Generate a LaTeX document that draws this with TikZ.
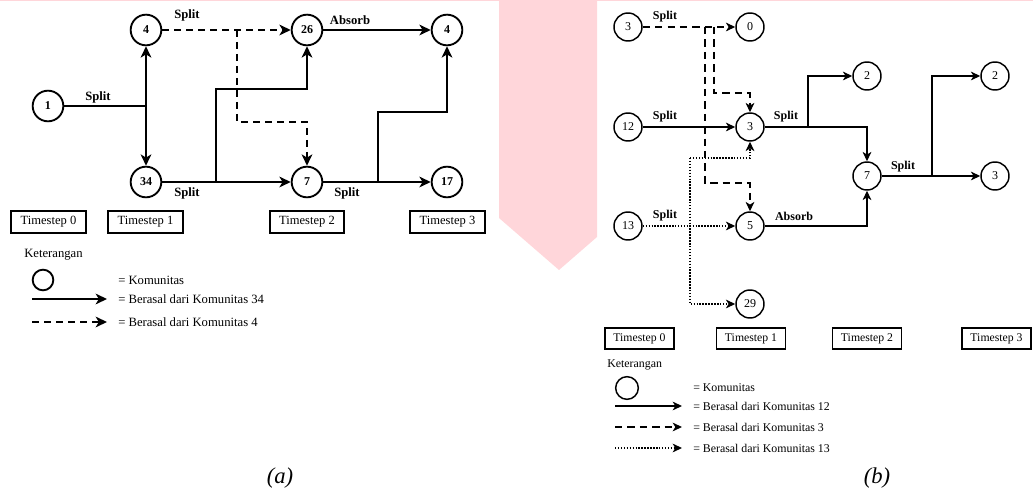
\documentclass[tikz,border=0pt]{standalone}
\usepackage{fontspec}
\setmainfont{Liberation Serif}
\usetikzlibrary{arrows.meta}
\definecolor{wpink}{HTML}{FFD6DA}
\tikzset{
  commA/.style={circle, draw, line width=1.4pt, minimum size=23pt, inner sep=0pt, font=\bfseries\fontsize{9}{10}\selectfont},
  commB/.style={circle, draw, line width=1.1pt, minimum size=21pt, inner sep=0pt, font=\fontsize{9}{10}\selectfont},
  tipA/.style={-{Stealth[length=8.5pt,width=8pt,inset=2.4pt]}},
  tipB/.style={-{Stealth[length=7pt,width=6.5pt,inset=2pt]}},
  solA/.style={line width=1.4pt},
  dshA/.style={line width=1.4pt, dash pattern=on 5pt off 4pt},
  solB/.style={line width=1.1pt},
  dshB/.style={line width=1.1pt, dash pattern=on 5.5pt off 3.8pt},
  dotB/.style={line width=1.1pt, dash pattern=on 1.1pt off 1.1pt},
  lblA/.style={font=\bfseries\fontsize{9.5}{11}\selectfont, inner sep=0pt},
  lblB/.style={font=\bfseries\fontsize{9}{10}\selectfont, inner sep=0pt},
  tsA/.style={draw, line width=1.4pt, minimum width=56pt, minimum height=17pt, inner sep=0pt, font=\fontsize{9.4}{10}\selectfont},
  tsB/.style={draw, line width=1.1pt, minimum width=52pt, minimum height=15.5pt, inner sep=0pt, font=\fontsize{8.8}{10}\selectfont},
  legA/.style={anchor=west, inner sep=0pt, font=\fontsize{9.5}{11}\selectfont},
  legB/.style={anchor=west, inner sep=0pt, font=\fontsize{8.9}{10}\selectfont},
  capt/.style={inner sep=0pt, font=\itshape\fontsize{17}{20}\selectfont},
}
\begin{document}
\begin{tikzpicture}[x=0.75pt, y=-0.75pt, line join=miter]
\useasboundingbox (0,0) rectangle (1033,495);
% background marks
\fill[wpink] (0,0) rectangle (1033,1.5);
\fill[wpink] (499,0) -- (597,0) -- (597,237) -- (559,270) -- (499,218) -- cycle;

% ================= (a) =================
\node[commA] (a1)  at (48,106) {1};
\node[commA] (a4)  at (146,30) {4};
\node[commA] (a34) at (146,182) {34};
\node[commA] (a26) at (307,30) {26};
\node[commA] (a7)  at (307,182) {7};
\node[commA] (a4b) at (447,30) {4};
\node[commA] (a17) at (447,182) {17};

\coordinate (j1) at (146,106);
\coordinate (k1) at (216,182);
\coordinate (k2) at (216,89);
\coordinate (m1) at (237,30);
\coordinate (m2) at (237,122);
\coordinate (n1) at (378,182);
\coordinate (n2) at (378,112);

\draw[solA] (a1) -- (j1);
\draw[solA, tipA] (j1) -- (a4);
\draw[solA, tipA] (j1) -- (a34);
\draw[solA, tipA] (a34) -- (a7);
\draw[solA, tipA] (k1) -- (k2) -| (a26);
\draw[dshA, tipA] (a4) -- (a26);
\draw[dshA, tipA] (m1) -- (m2) -| (a7);
\draw[solA, tipA] (a26) -- (a4b);
\draw[solA, tipA] (a7) -- (a17);
\draw[solA, tipA] (n1) -- (n2) -| (a4b);

\node[lblA] (la1) at (98,97) {Split};
\node[lblA] (la2) at (187,15) {Split};
\node[lblA] (la3) at (350,20) {Absorb};
\node[lblA] (la4) at (187,193) {Split};
\node[lblA] (la5) at (347,193) {Split};

\node[tsA] (ta0) at (48.5,222) {Timestep 0};
\node[tsA] (ta1) at (145.5,222) {Timestep 1};
\node[tsA] (ta2) at (307,222) {Timestep 2};
\node[tsA] (ta3) at (447.5,222) {Timestep 3};

\node[legA] (ka) at (24,255) {Keterangan};
\node[circle, draw, line width=1.4pt, minimum size=15.5pt, inner sep=0pt] (kca) at (43,280) {};
\node[legA] (kta) at (118,280) {= Komunitas};
\coordinate (pa1) at (32,299); \coordinate (pa2) at (107,299);
\draw[solA, tipA] (pa1) -- (pa2);
\node[legA] (ksa) at (118,299) {= Berasal dari Komunitas 34};
\coordinate (pa3) at (32,322); \coordinate (pa4) at (107,322);
\draw[dshA, tipA] (pa3) -- (pa4);
\node[legA] (kda) at (118,322) {= Berasal dari Komunitas 4};

\node[capt] (capa) at (280,478) {(a)};

% ================= (b) =================
\node[commB] (b3)  at (628,27) {3};
\node[commB] (b0)  at (750,27) {0};
\node[commB] (b12) at (628,127) {12};
\node[commB] (b3b) at (750,127) {3};
\node[commB] (b2)  at (867,76) {2};
\node[commB] (b7)  at (867,176) {7};
\node[commB] (b2b) at (995,76) {2};
\node[commB] (b3c) at (995,176) {3};
\node[commB] (b13) at (628,226) {13};
\node[commB] (b5)  at (750,226) {5};
\node[commB] (b29) at (750,304) {29};

\coordinate (e1) at (705,27);
\coordinate (e2) at (705,183);
\coordinate (e3) at (714,27);
\coordinate (e4) at (714,93);
\coordinate (f1) at (808,127);
\coordinate (g1) at (932,176);
\coordinate (h1) at (690,158);

\draw[dshB, tipB] (b3) -- (b0);
\draw[dshB, tipB] (e1) -- (e2) -| (b5);
\draw[dshB, tipB] (e3) -- (e4) -| (b3b);
\draw[solB, tipB] (b12) -- (b3b);
\draw[solB, tipB] (b3b) -| (b7);
\draw[solB, tipB] (f1) |- (b2);
\draw[solB, tipB] (b5) -| (b7);
\draw[solB, tipB] (b7) -- (b3c);
\draw[solB, tipB] (g1) |- (b2b);
\draw[dotB, tipB] (b13) -- (b5);
\draw[dotB, tipB] (h1) |- (b29);
\draw[dotB, tipB] (h1) -| (b3b);

\node[lblB] (lb1) at (665,17) {Split};
\node[lblB] (lb2) at (665,117) {Split};
\node[lblB] (lb3) at (786,117) {Split};
\node[lblB] (lb4) at (903,167) {Split};
\node[lblB] (lb5) at (794,216) {Absorb};
\node[lblB] (lb6) at (665,216) {Split};

\node[tsB] (tb0) at (639.5,338.5) {Timestep 0};
\node[tsB] (tb1) at (751,338.5) {Timestep 1};
\node[tsB] (tb2) at (867,338.5) {Timestep 2};
\node[tsB] (tb3) at (996.5,338.5) {Timestep 3};

\node[legB] (kb) at (607,365) {Keterangan};
\node[circle, draw, line width=1.1pt, minimum size=17pt, inner sep=0pt] (kcb) at (627,388) {};
\node[legB] (ktb) at (693,388) {= Komunitas};
\coordinate (pb1) at (615,406); \coordinate (pb2) at (682,406);
\draw[solB, tipB] (pb1) -- (pb2);
\node[legB] (ksb) at (693,406) {= Berasal dari Komunitas 12};
\coordinate (pb3) at (615,427); \coordinate (pb4) at (682,427);
\draw[dshB, tipB] (pb3) -- (pb4);
\node[legB] (kdb) at (693,427) {= Berasal dari Komunitas 3};
\coordinate (pb5) at (615,448); \coordinate (pb6) at (682,448);
\draw[dotB, tipB] (pb5) -- (pb6);
\node[legB] (kob) at (693,448) {= Berasal dari Komunitas 13};

\node[capt] (capb) at (877,478) {(b)};
\end{tikzpicture}
\end{document}
